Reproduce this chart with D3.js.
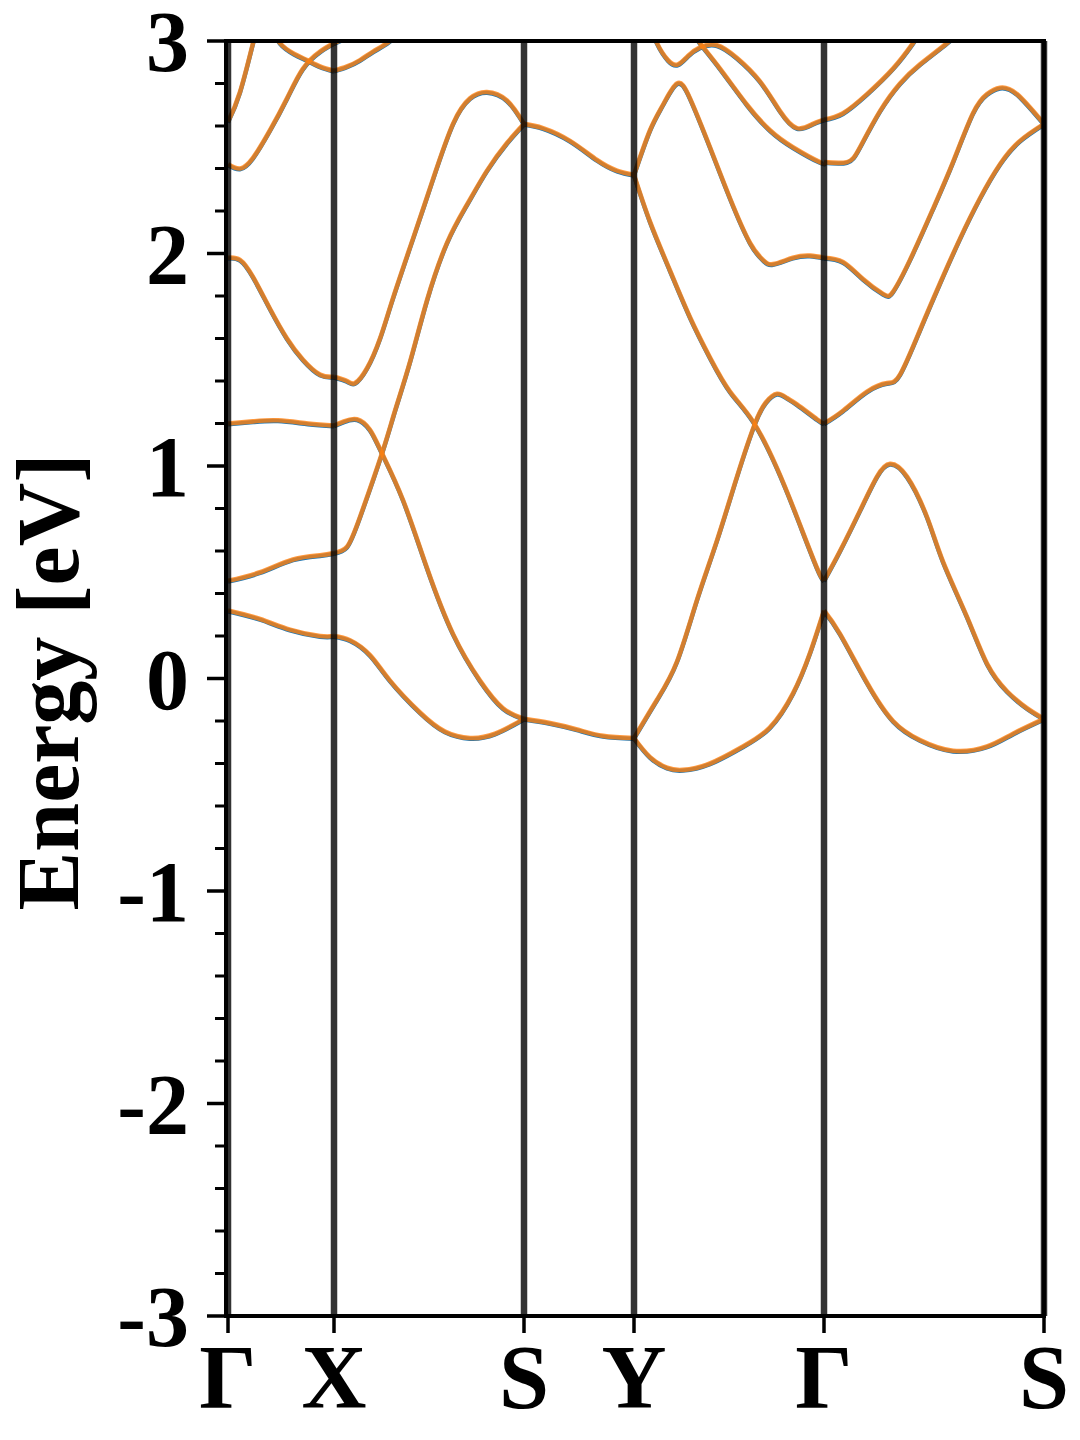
<!DOCTYPE html>
<html><head><meta charset="utf-8">
<script src="https://cdn.jsdelivr.net/npm/d3@7"></script>
<style>html,body{margin:0;padding:0;background:#fff;} svg{display:block;}</style>
</head><body>
<svg id="chart" width="1080" height="1440"></svg>
<script>
// High-symmetry path
const kTicks = [0, 1.06, 2.96, 4.06, 5.96, 8.16];
const kLabels = ["Γ", "X", "S", "Y", "Γ", "S"];
// Energy axis
const eTicks = [-3, -2, -1, 0, 1, 2, 3];
const eTickLabels = ["-3", "-2", "-1", "0", "1", "2", "3"];
const eMinorTicks = [-2.8,-2.6,-2.4,-2.2,-1.8,-1.6,-1.4,-1.2,-0.8,-0.6,-0.4,-0.2,0.2,0.4,0.6,0.8,1.2,1.4,1.6,1.8,2.2,2.4,2.6,2.8];

// Bands: [k, E(eV)]
const band1 = [[0,0.32],[0.32,0.28],[0.62,0.23],[0.92,0.20],[1.06,0.20],
  [1.22,0.18],[1.42,0.11],[1.62,-0.01],[1.92,-0.16],[2.17,-0.25],[2.42,-0.28],[2.67,-0.26],[2.96,-0.19],
  [3.22,-0.21],[3.49,-0.24],[3.75,-0.27],[4.06,-0.28],
  [4.22,-0.37],[4.39,-0.42],[4.55,-0.43],[4.82,-0.40],[5.15,-0.32],[5.42,-0.23],[5.65,-0.07],[5.82,0.12],[5.96,0.32],
  [6.12,0.21],[6.39,-0.02],[6.65,-0.20],[6.92,-0.29],[7.25,-0.34],[7.59,-0.32],[7.85,-0.26],[8.16,-0.19]];
const band2 = [[0,0.46],[0.32,0.50],[0.65,0.56],[0.92,0.58],[1.06,0.59],
  [1.19,0.62],[1.32,0.76],[1.54,1.06],[1.67,1.26],[1.82,1.49],[1.99,1.78],[2.19,2.05],[2.39,2.23],[2.59,2.39],[2.79,2.52],[2.96,2.61],
  [3.15,2.59],[3.42,2.53],[3.69,2.44],[3.89,2.39],[4.06,2.37],
  [4.22,2.15],[4.42,1.92],[4.62,1.70],[4.82,1.51],[5.02,1.35],[5.25,1.21],[5.49,0.99],[5.69,0.76],[5.89,0.52],[5.96,0.46],
  [6.12,0.60],[6.32,0.79],[6.49,0.95],[6.62,1.01],[6.79,0.95],[6.99,0.76],[7.15,0.55],[7.39,0.29],[7.59,0.07],[7.79,-0.06],[7.99,-0.14],[8.16,-0.19]];
const band3 = [[0,1.20],[0.25,1.21],[0.5,1.215],[0.8,1.20],[1.06,1.19],
  [1.16,1.21],[1.29,1.22],[1.42,1.17],[1.54,1.06],[1.75,0.84],[1.99,0.52],[2.25,0.21],[2.52,-0.01],[2.75,-0.14],[2.96,-0.19]];
const band4 = [[0,1.98],[0.12,1.97],[0.25,1.89],[0.42,1.74],[0.59,1.60],[0.75,1.50],[0.92,1.43],[1.06,1.42],
  [1.19,1.40],[1.27,1.39],[1.39,1.46],[1.52,1.60],[1.65,1.79],[1.85,2.07],[2.05,2.35],[2.25,2.61],[2.42,2.73],[2.59,2.76],[2.79,2.72],[2.96,2.61]];
const band5 = [[4.06,2.37],[4.22,2.58],[4.35,2.70],[4.49,2.80],[4.62,2.73],[4.82,2.50],[5.02,2.26],[5.22,2.05],[5.35,1.97],[5.45,1.95],[5.65,1.98],[5.82,1.99],[5.96,1.98],
  [6.15,1.96],[6.35,1.88],[6.55,1.81],[6.65,1.82],[6.82,1.97],[7.05,2.21],[7.25,2.43],[7.45,2.66],[7.59,2.75],[7.72,2.78],[7.89,2.75],[8.16,2.61]];
const band6 = [[4.06,-0.28],[4.29,-0.10],[4.49,0.08],[4.69,0.37],[4.89,0.65],[5.09,0.95],[5.27,1.20],[5.38,1.30],[5.49,1.34],[5.59,1.32],[5.69,1.29],[5.89,1.22],[5.96,1.20],
  [6.15,1.26],[6.39,1.35],[6.59,1.39],[6.72,1.43],[6.92,1.64],[7.12,1.86],[7.32,2.07],[7.52,2.26],[7.72,2.42],[7.92,2.53],[8.16,2.61]];
const band7 = [[0,2.42],[0.12,2.40],[0.25,2.45],[0.42,2.58],[0.59,2.73],[0.75,2.87],[0.92,2.95],[1.06,2.99],[1.2,3.02],[1.35,3.06]];
const band8 = [[0,2.62],[0.12,2.76],[0.25,2.99],[0.30,3.08]];
const band9 = [[0.45,3.06],[0.52,2.99],[0.66,2.94],[0.79,2.91],[0.92,2.88],[1.06,2.86],[1.19,2.88],[1.32,2.91],[1.45,2.95],[1.59,2.99],[1.72,3.04]];
const band10 = [[4.22,3.08],[4.29,2.99],[4.40,2.91],[4.50,2.89],[4.60,2.93],[4.72,2.97],[4.89,2.98],[5.09,2.92],[5.32,2.81],[5.52,2.67],[5.69,2.59],[5.85,2.61],[5.96,2.63],
  [6.15,2.66],[6.39,2.75],[6.65,2.87],[6.85,2.99],[6.95,3.06]];
const band11 = [[4.62,3.06],[4.72,2.99],[4.92,2.87],[5.19,2.70],[5.42,2.58],[5.65,2.50],[5.92,2.43],[5.96,2.43],
  [6.19,2.43],[6.32,2.50],[6.52,2.67],[6.72,2.80],[6.92,2.89],[7.19,2.99],[7.3,3.04]];
const bands = [band1, band2, band3, band4, band5, band6, band7, band8, band9, band10, band11];

const svg = d3.select("#chart");
const L = 226, R = 1044, T = 41, B = 1316;
const x = d3.scaleLinear().domain([0, 8.16]).range([228, 1044]);
const y = d3.scaleLinear().domain([-3, 3]).range([B, T]);
const FONT = "'Liberation Serif', 'Times New Roman', serif";

svg.append("defs").append("clipPath").attr("id", "clip")
  .append("rect").attr("x", L).attr("y", T).attr("width", R - L).attr("height", B - T);

function splitPieces(band) {
  const pieces = []; let cur = [];
  band.forEach((p, i) => {
    cur.push(p);
    const sym = kTicks.some(t => Math.abs(t - p[0]) < 1e-6);
    if (sym && cur.length > 1 && i < band.length - 1) { pieces.push(cur); cur = [p]; }
  });
  if (cur.length > 1) pieces.push(cur);
  return pieces;
}
const line = d3.line().x(d => x(d[0])).y(d => y(d[1])).curve(d3.curveNatural);
const pieces = bands.flatMap(splitPieces);

const g = svg.append("g").attr("clip-path", "url(#clip)");
g.append("g").attr("transform", "translate(0,0.8)").selectAll("path").data(pieces).join("path")
  .attr("d", line).attr("fill", "none").attr("stroke", "#1f77b4").attr("stroke-width", 4.3);
g.append("g").selectAll("path").data(pieces).join("path")
  .attr("d", line).attr("fill", "none").attr("stroke", "#ff7f0e").attr("stroke-opacity", 0.8).attr("stroke-width", 4.6);

// high-symmetry vertical lines
svg.append("g").selectAll("line").data(kTicks).join("line")
  .attr("x1", d => x(d)).attr("x2", d => x(d)).attr("y1", T).attr("y2", B)
  .attr("stroke", "#000").attr("stroke-opacity", 0.8).attr("stroke-width", 6.5);

// y axis ticks
const ax = svg.append("g");
ax.selectAll("line.maj").data(eTicks).join("line").attr("class", "maj")
  .attr("x1", L - 19).attr("x2", L).attr("y1", d => y(d)).attr("y2", d => y(d))
  .attr("stroke", "#000").attr("stroke-width", 3.5);
ax.selectAll("line.min").data(eMinorTicks).join("line").attr("class", "min")
  .attr("x1", L - 11).attr("x2", L).attr("y1", d => y(d)).attr("y2", d => y(d))
  .attr("stroke", "#000").attr("stroke-width", 3);
ax.selectAll("text.yl").data(eTicks).join("text").attr("class", "yl")
  .attr("x", 189).attr("y", d => y(d) + 30)
  .attr("text-anchor", "end").attr("font-family", FONT).attr("font-weight", "bold").attr("font-size", 86)
  .text((d, i) => eTickLabels[i]);

// x axis ticks
ax.selectAll("line.xt").data(kTicks).join("line").attr("class", "xt")
  .attr("x1", d => x(d)).attr("x2", d => x(d)).attr("y1", B).attr("y2", B + 17)
  .attr("stroke", "#000").attr("stroke-width", 3.5);
ax.selectAll("text.xl").data(kTicks).join("text").attr("class", "xl")
  .attr("x", d => x(d)).attr("y", 1408)
  .attr("text-anchor", "middle").attr("font-family", FONT).attr("font-weight", "bold").attr("font-size", 90)
  .text((d, i) => kLabels[i]);

// frame
svg.append("rect").attr("x", L).attr("y", T).attr("width", R - L).attr("height", B - T)
  .attr("fill", "none").attr("stroke", "#000").attr("stroke-width", 4);

// y label
svg.append("text").attr("transform", "translate(78,682) rotate(-90)")
  .attr("text-anchor", "middle").attr("font-family", FONT).attr("font-weight", "bold").attr("font-size", 88)
  .text("Energy [eV]");
</script>
</body></html>
